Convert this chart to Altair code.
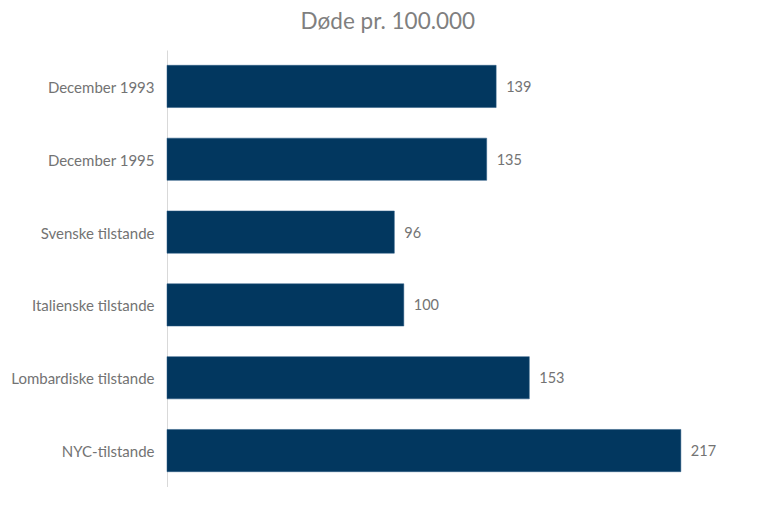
import altair as alt
import pandas as pd

categories = ["December 1993", "December 1995", "Svenske tilstande",
              "Italienske tilstande", "Lombardiske tilstande", "NYC-tilstande"]
values = [139, 135, 96, 100, 153, 217]

df = pd.DataFrame({"kategori": categories, "værdi": values})

y = alt.Y("kategori:N", sort=categories, title=None,
          scale=alt.Scale(paddingInner=0.42),
          axis=alt.Axis(domain=True, domainColor="#d9d9d9", domainWidth=1,
                        ticks=False, labelPadding=13, labelFont="Lato",
                        labelFontSize=15, labelColor="#737373", labelOffset=1.5))
x = alt.X("værdi:Q", title=None, scale=alt.Scale(domain=[0, 250], nice=False),
          axis=None)

bars = alt.Chart(df).mark_bar(color="#02375f", stroke="#2a5a85", strokeWidth=0.5).encode(x=x, y=y)
labels = alt.Chart(df).mark_text(align="left", dx=10, dy=1.5, font="Lato", fontSize=14.5,
                                 color="#737373").encode(x=x, y=y, text="værdi:Q")

chart = (bars + labels).properties(
    width=592, height=437,
    title=alt.TitleParams("Døde pr. 100.000", font="Lato", fontSize=22.5,
                          fontWeight="normal", color="#7f7f7f",
                          anchor="middle", frame="bounds", offset=17, dx=3),
    autosize=alt.AutoSizeParams(type="none"),
    padding={"left": 159, "top": 42, "right": 0, "bottom": 0},
).configure_view(stroke=None)

chart.save("out.html", embed_options={"renderer": "svg", "actions": False})
